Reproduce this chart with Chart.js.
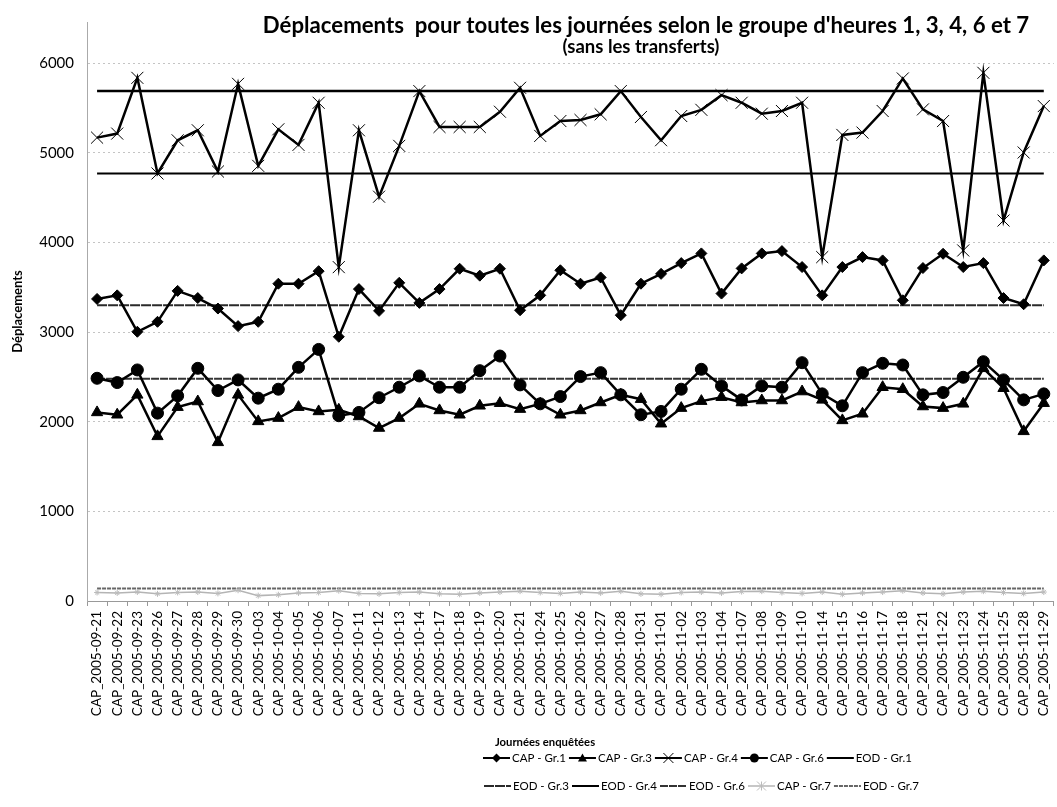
<!DOCTYPE html>
<html>
<head>
<meta charset="utf-8">
<title>Déplacements selon le groupe d'heures</title>
<script src="https://cdn.jsdelivr.net/npm/chart.js"></script>
<style>
html, body { margin: 0; padding: 0; background: #fff; overflow: hidden; }
#wrap { width: 1057px; height: 807px; overflow: hidden; position: relative; }
</style>
</head>
<body>
<div id="wrap"><canvas id="myChart" width="1065" height="807"></canvas></div>
<script>
// Journées enquêtées
const days = [
  'CAP_2005-09-21','CAP_2005-09-22','CAP_2005-09-23','CAP_2005-09-26','CAP_2005-09-27','CAP_2005-09-28',
  'CAP_2005-09-29','CAP_2005-09-30','CAP_2005-10-03','CAP_2005-10-04','CAP_2005-10-05','CAP_2005-10-06',
  'CAP_2005-10-07','CAP_2005-10-11','CAP_2005-10-12','CAP_2005-10-13','CAP_2005-10-14','CAP_2005-10-17',
  'CAP_2005-10-18','CAP_2005-10-19','CAP_2005-10-20','CAP_2005-10-21','CAP_2005-10-24','CAP_2005-10-25',
  'CAP_2005-10-26','CAP_2005-10-27','CAP_2005-10-28','CAP_2005-10-31','CAP_2005-11-01','CAP_2005-11-02',
  'CAP_2005-11-03','CAP_2005-11-04','CAP_2005-11-07','CAP_2005-11-08','CAP_2005-11-09','CAP_2005-11-10',
  'CAP_2005-11-14','CAP_2005-11-15','CAP_2005-11-16','CAP_2005-11-17','CAP_2005-11-18','CAP_2005-11-21',
  'CAP_2005-11-22','CAP_2005-11-23','CAP_2005-11-24','CAP_2005-11-25','CAP_2005-11-28','CAP_2005-11-29'
];

// CAP values
const capGr1 = [3370, 3410, 3004, 3115, 3460, 3380, 3263, 3067, 3115, 3540, 3540, 3680,
  2948, 3480, 3237, 3550, 3326, 3480, 3707, 3630, 3707, 3244, 3410, 3690,
  3540, 3610, 3189, 3540, 3650, 3770, 3878, 3430, 3711, 3878, 3904, 3726,
  3410, 3726, 3837, 3800, 3355, 3715, 3874, 3726, 3770, 3380, 3311, 3800];
const capGr3 = [2104, 2078, 2300, 1837, 2163, 2226, 1770, 2300, 2004, 2041, 2163, 2115,
  2133, 2059, 1930, 2041, 2200, 2126, 2078, 2178, 2207, 2141, 2200, 2078,
  2126, 2215, 2300, 2252, 1978, 2152, 2230, 2274, 2215, 2237, 2237, 2337,
  2244, 2015, 2089, 2385, 2363, 2170, 2152, 2200, 2596, 2374, 1893, 2207];
const capGr4 = [5170, 5215, 5837, 4770, 5140, 5252, 4792, 5770, 4855, 5263, 5089, 5559,
  3725, 5252, 4511, 5078, 5689, 5289, 5289, 5289, 5459, 5726, 5189, 5355,
  5367, 5430, 5689, 5400, 5141, 5411, 5480, 5644, 5559, 5437, 5467, 5559,
  3837, 5200, 5226, 5467, 5830, 5485, 5355, 3911, 5893, 4245, 5004, 5522];
const capGr6 = [2485, 2437, 2578, 2096, 2289, 2596, 2348, 2467, 2263, 2363, 2607, 2807,
  2067, 2104, 2268, 2385, 2511, 2385, 2385, 2570, 2733, 2411, 2200, 2281,
  2504, 2548, 2300, 2078, 2115, 2363, 2585, 2400, 2244, 2400, 2385, 2659,
  2311, 2178, 2548, 2652, 2633, 2300, 2326, 2496, 2670, 2467, 2244, 2311];
const capGr7 = [95, 90, 100, 80, 95, 100, 85, 120, 60, 70, 90, 95,
  115, 85, 80, 95, 100, 80, 75, 90, 100, 110, 95, 85,
  100, 90, 110, 80, 75, 95, 100, 90, 105, 110, 95, 85,
  100, 75, 90, 100, 115, 90, 80, 100, 110, 95, 85, 100];

// EOD reference levels
const eodGr1 = 4770;
const eodGr3 = 3300;
const eodGr4 = 5690;
const eodGr6 = 2480;
const eodGr7 = 140;

const yTicks = [0, 1000, 2000, 3000, 4000, 5000, 6000];

const FONT = 'Lato, "Open Sans", sans-serif';
const flat = v => days.map(() => v);

function capLine(label, data, pointStyle, radius) {
  return {
    label: label, data: data,
    borderColor: '#000', borderWidth: 2.5,
    pointStyle: pointStyle, pointRadius: radius,
    pointBackgroundColor: '#000', pointBorderColor: '#000',
    pointBorderWidth: 1,
    tension: 0
  };
}
function eodLine(label, value, color, width, dash) {
  return {
    label: label, data: flat(value),
    borderColor: color, borderWidth: width, borderDash: dash,
    pointRadius: 0, tension: 0
  };
}

const datasets = [
  capLine('CAP - Gr.1', capGr1, 'rectRot', 5.5),
  capLine('CAP - Gr.3', capGr3, 'triangle', 6.5),
  capLine('CAP - Gr.4', capGr4, 'crossRot', 8.5),
  capLine('CAP - Gr.6', capGr6, 'circle', 6),
  eodLine('EOD - Gr.1', eodGr1, '#000', 2, []),
  eodLine('EOD - Gr.3', eodGr3, '#2a2a2a', 2, [10, 1]),
  eodLine('EOD - Gr.4', eodGr4, '#000', 2.5, []),
  eodLine('EOD - Gr.6', eodGr6, '#333', 2, [8, 1]),
  {
    label: 'CAP - Gr.7', data: capGr7,
    borderColor: '#b4b4b4', borderWidth: 1.5,
    pointStyle: 'star', pointRadius: 3,
    pointBackgroundColor: '#bbb', pointBorderColor: '#bbb', pointBorderWidth: 1,
    tension: 0
  },
  eodLine('EOD - Gr.7', eodGr7, '#666', 2, [4, 1])
];

function drawMarker(ctx, style, x, y, r) {
  ctx.beginPath();
  if (style === 'rectRot') {
    ctx.moveTo(x, y - r); ctx.lineTo(x + r, y); ctx.lineTo(x, y + r); ctx.lineTo(x - r, y);
    ctx.closePath(); ctx.fill();
  } else if (style === 'triangle') {
    ctx.moveTo(x, y - r); ctx.lineTo(x + r, y + r * 0.8); ctx.lineTo(x - r, y + r * 0.8);
    ctx.closePath(); ctx.fill();
  } else if (style === 'circle') {
    ctx.arc(x, y, r, 0, Math.PI * 2); ctx.fill();
  } else {
    ctx.lineWidth = 1;
    ctx.moveTo(x - r, y - r); ctx.lineTo(x + r, y + r);
    ctx.moveTo(x + r, y - r); ctx.lineTo(x - r, y + r);
    if (style === 'star') { ctx.moveTo(x, y - r); ctx.lineTo(x, y + r); }
    ctx.stroke();
  }
}

function fitText(ctx, text, weight, width, x, y) {
  ctx.font = weight + ' 100px ' + FONT;
  const size = 100 * width / ctx.measureText(text).width;
  ctx.font = weight + ' ' + size.toFixed(1) + 'px ' + FONT;
  ctx.fillText(text, x, y);
}

// titles + two-row legend, placed like the Excel original
const excelText = {
  id: 'excelText',
  afterDraw(chart) {
    const ctx = chart.ctx;
    ctx.save();
    ctx.fillStyle = '#000';
    ctx.textAlign = 'center';
    ctx.textBaseline = 'middle';
    fitText(ctx, "Déplacements  pour toutes les journées selon le groupe d'heures 1, 3, 4, 6 et 7", 'bold', 768, 646, 26);
    fitText(ctx, '(sans les transferts)', 'bold', 157, 641, 47);
    fitText(ctx, 'Journées enquêtées', 'bold', 100, 545, 742);

    const rows = [[0, 1, 2, 3, 4], [5, 6, 7, 8, 9]];
    const rowY = [758, 786];
    const rowX = [483, 484];
    ctx.font = '11.5px ' + FONT;
    rows.forEach((row, r) => {
      let x = rowX[r];
      const y = rowY[r];
      row.forEach(i => {
        const ds = chart.data.datasets[i];
        ctx.save();
        ctx.strokeStyle = ds.borderColor;
        ctx.lineWidth = Math.min(ds.borderWidth, 2);
        ctx.setLineDash(ds.borderDash || []);
        ctx.beginPath(); ctx.moveTo(x, y); ctx.lineTo(x + 27, y); ctx.stroke();
        ctx.setLineDash([]);
        if (ds.pointRadius > 0) {
          ctx.fillStyle = ds.pointBackgroundColor;
          ctx.strokeStyle = ds.pointBorderColor;
          drawMarker(ctx, ds.pointStyle, x + 13.5, y, ds.pointStyle === 'crossRot' ? 5 : 4.5);
        }
        ctx.restore();
        ctx.textAlign = 'left';
        ctx.fillText(ds.label, x + 29, y);
        x += 29 + ctx.measureText(ds.label).width + 3;
      });
    });
    ctx.restore();
  }
};

const ctx = document.getElementById('myChart').getContext('2d');
const DeplChart = new Chart(ctx, {
  type: 'line',
  data: { labels: days, datasets: datasets },
  options: {
    responsive: false,
    animation: false,
    layout: { autoPadding: false, padding: { top: 17, left: 0, right: 0, bottom: 0 } },
    plugins: {
      legend: { display: false },
      title: { display: false },
      tooltip: { enabled: false }
    },
    scales: {
      x: {
        type: 'category',
        offset: true,
        grid: { offset: true, drawOnChartArea: false, drawTicks: true, tickLength: 5, color: '#999' },
        border: { color: '#999' },
        ticks: {
          autoSkip: false, maxRotation: 90, minRotation: 90, padding: 5,
          color: '#000', font: { family: FONT, size: 13.5 }
        },
        afterFit: s => { s.height = 206; }
      },
      y: {
        min: 0, max: 6460,
        afterBuildTicks: s => { s.ticks = yTicks.map(v => ({ value: v })); },
        grid: { color: '#c4c4c4', drawTicks: false },
        border: { display: true, color: '#aaa', dash: [2, 3] },
        ticks: {
          padding: 13, color: '#000', font: { family: FONT, size: 15 },
          callback: v => String(v)
        },
        title: {
          display: true, text: 'Déplacements', color: '#000',
          font: { family: FONT, size: 13, weight: 'bold' },
          padding: { top: 10, bottom: 0 }
        },
        afterFit: s => { s.width = 87; }
      }
    }
  },
  plugins: [excelText]
});
</script>
</body>
</html>
